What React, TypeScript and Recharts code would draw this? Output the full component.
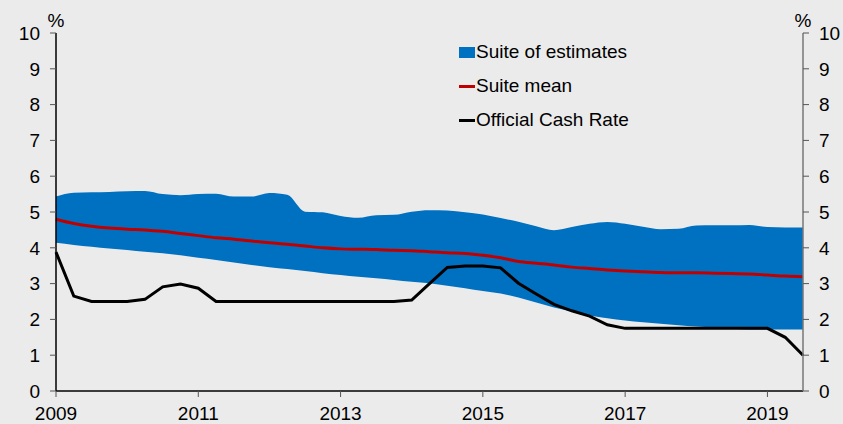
import {
	Area,
	ComposedChart,
	Legend,
	Line,
	XAxis,
	YAxis,
} from "recharts";

// quarterly, 2009 Q1 .. 2019 Q3
const startYear = 2009;
const suiteLow = [
	4.14, 4.08, 4.03, 3.98, 3.94, 3.89, 3.85, 3.79, 3.72, 3.66, 3.59, 3.52,
	3.46, 3.41, 3.35, 3.29, 3.24, 3.19, 3.15, 3.1, 3.05, 3.01, 2.94, 2.87,
	2.79, 2.72, 2.61, 2.47, 2.33, 2.22, 2.11, 2.03, 1.97, 1.92, 1.88, 1.84,
	1.8, 1.77, 1.74, 1.72, 1.72, 1.72, 1.72,
];
const suiteHigh = [
	5.43, 5.54, 5.55, 5.56, 5.58, 5.59, 5.5, 5.47, 5.5, 5.51, 5.43, 5.43,
	5.53, 5.48, 5.01, 4.99, 4.89, 4.84, 4.91, 4.92, 5.01, 5.05, 5.04, 4.99,
	4.93, 4.83, 4.73, 4.6, 4.49, 4.58, 4.67, 4.72, 4.67, 4.59, 4.52, 4.53,
	4.62, 4.63, 4.63, 4.64, 4.58, 4.57, 4.57,
];
const suiteMean = [
	4.8, 4.68, 4.6, 4.55, 4.52, 4.5, 4.46, 4.4, 4.34, 4.28, 4.24, 4.19, 4.14,
	4.1, 4.05, 4.0, 3.97, 3.96, 3.95, 3.93, 3.92, 3.89, 3.86, 3.84, 3.79, 3.72,
	3.62, 3.57, 3.52, 3.46, 3.42, 3.38, 3.35, 3.33, 3.31, 3.3, 3.3, 3.29, 3.28,
	3.27, 3.24, 3.21, 3.19,
];
const cashRate = [
	3.88, 2.65, 2.5, 2.5, 2.5, 2.56, 2.91, 2.99, 2.87, 2.5, 2.5, 2.5, 2.5, 2.5,
	2.5, 2.5, 2.5, 2.5, 2.5, 2.5, 2.54, 3.0, 3.45, 3.49, 3.49, 3.44, 3.01, 2.71,
	2.42, 2.24, 2.09, 1.85, 1.75, 1.75, 1.75, 1.75, 1.75, 1.75, 1.75, 1.75,
	1.75, 1.5, 1.0,
];
const yearTicks = [2009, 2011, 2013, 2015, 2017, 2019];
const pctTicks = [0, 1, 2, 3, 4, 5, 6, 7, 8, 9, 10];

const legendItems = [
	{ name: "Suite of estimates", color: "#0070c0", kind: "box" },
	{ name: "Suite mean", color: "#c00000", kind: "line" },
	{ name: "Official Cash Rate", color: "#000000", kind: "line" },
];

const data = suiteLow.map((low, i) => ({
	date: startYear + i * 0.25,
	band: [low, suiteHigh[i]],
	mean: suiteMean[i],
	ocr: cashRate[i],
}));

const font = "'Liberation Sans', Arial, sans-serif";
const tickStyle = { fill: "#000", fontSize: 19, fontFamily: font };

const PctLabel = (props: any) => {
	const vb = props.viewBox || {};
	const x = props.side === "left" ? vb.x + vb.width : vb.x;
	return (
		<text
			x={x}
			y={vb.y - 6}
			textAnchor="middle"
			fill="#000"
			fontSize={19}
			fontFamily={font}
		>
			%
		</text>
	);
};

const LegendBox = () => (
	<div style={{ fontFamily: font, fontSize: 19, color: "#000" }}>
		{legendItems.map((item) => (
			<div
				key={item.name}
				style={{ display: "flex", alignItems: "center", height: 34 }}
			>
				<span
					style={{
						display: "inline-block",
						width: 16,
						height: item.kind === "box" ? 11 : 3,
						background: item.color,
						marginRight: 1,
					}}
				/>
				<span>{item.name}</span>
			</div>
		))}
	</div>
);

const App = () => {
	return (
		<div
			style={{
				position: "absolute",
				left: 0,
				top: 0,
				width: 843,
				height: 424,
				background: "#ebebeb",
			}}
		>
			<ComposedChart
				width={843}
				height={424}
				data={data}
				margin={{ top: 33, right: 0, bottom: 0, left: 0 }}
			>
				<XAxis
					dataKey="date"
					type="number"
					domain={[2009, 2019.5]}
					ticks={yearTicks}
					interval={0}
					height={33}
					tick={tickStyle}
					tickSize={6}
					tickMargin={10}
					axisLine={{ stroke: "#000", strokeWidth: 1.5 }}
					tickLine={{ stroke: "#555" }}
				/>
				<YAxis
					yAxisId="left"
					orientation="left"
					domain={[0, 10]}
					ticks={pctTicks}
					interval={0}
					width={56}
					tick={tickStyle}
					tickSize={6}
					tickMargin={10}
					axisLine={{ stroke: "#000", strokeWidth: 1.5 }}
					tickLine={{ stroke: "#555" }}
					label={<PctLabel side="left" />}
				/>
				<YAxis
					yAxisId="right"
					orientation="right"
					domain={[0, 10]}
					ticks={pctTicks}
					interval={0}
					width={40}
					tick={tickStyle}
					tickSize={6}
					tickMargin={10}
					axisLine={{ stroke: "#777", strokeWidth: 1.5 }}
					tickLine={{ stroke: "#555" }}
					label={<PctLabel side="right" />}
				/>
				<Legend
					layout="vertical"
					align="center"
					verticalAlign="middle"
					content={<LegendBox />}
					wrapperStyle={{ left: 459, top: 35, width: 260 }}
				/>
				<Area
					yAxisId="left"
					type="monotone"
					dataKey="band"
					name="Suite of estimates"
					fill="#0070c0"
					fillOpacity={1}
					stroke="none"
					isAnimationActive={false}
				/>
				<Line
					yAxisId="left"
					type="monotone"
					dataKey="mean"
					name="Suite mean"
					stroke="#c00000"
					strokeWidth={3}
					dot={false}
					isAnimationActive={false}
				/>
				{/* same 0-10 scale, hung on the right axis so it gets ticks */}
				<Line
					yAxisId="right"
					type="linear"
					dataKey="ocr"
					name="Official Cash Rate"
					stroke="#000"
					strokeWidth={3}
					dot={false}
					isAnimationActive={false}
				/>
			</ComposedChart>
		</div>
	);
};

export default App;
